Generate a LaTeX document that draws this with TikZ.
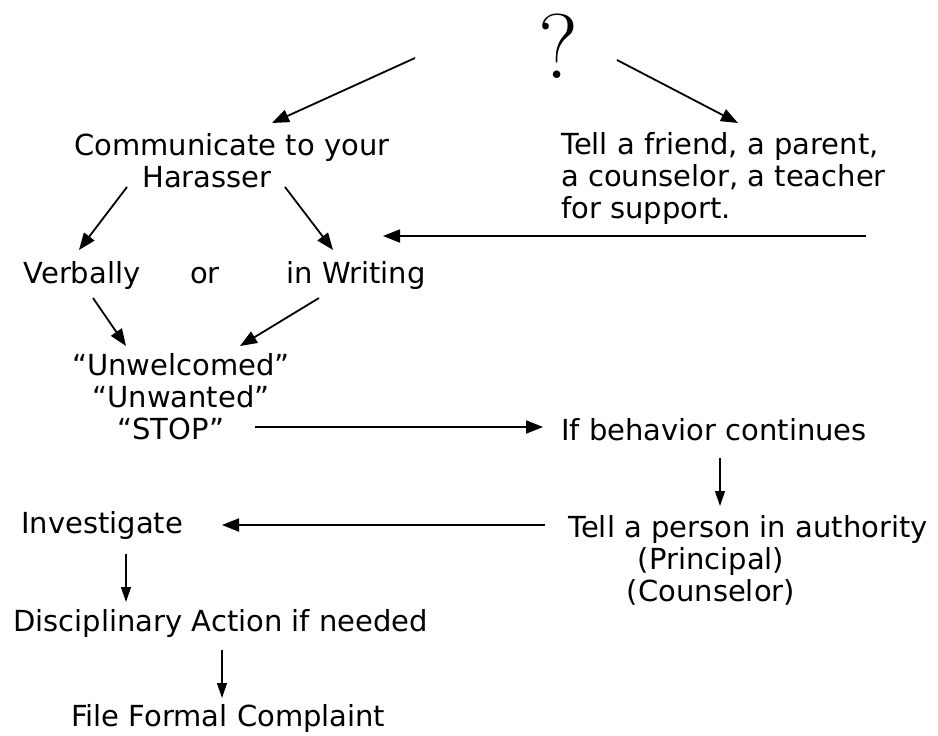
\documentclass[tikz,border=0pt]{standalone}
\usepackage{fontspec}
\newfontfamily\comicfont{DejaVu Sans}
\usetikzlibrary{arrows.meta, positioning}

\tikzset{
  txt/.style={font=\comicfont\fontsize{29}{32}\selectfont, inner sep=0pt, align=center},
  arr/.style={-{Triangle[length=17pt,width=13pt]}, line width=1.8pt},
  thinarr/.style={-{Triangle[length=15pt,width=10pt]}, line width=1.2pt}
}

\begin{document}
\begin{tikzpicture}[x=1pt, y=-1pt]
      \useasboundingbox (0,0) rectangle (938,736);
      % the question on top
      \node (q) at (558,46) {\fontsize{92}{92}\selectfont ?};
      \node[txt] (comm) at (232,161) {Communicate to your\\Harasser\hspace*{50pt}};
      \node[txt, align=left, anchor=west] (tell) at (561,178) {Tell a friend, a parent,\\a counselor, a teacher\\for support.};
      \node[txt, anchor=base] (verb) at (82,283) {Verbally};
      \node[txt, anchor=base] (or) at (205,283) {or};
      \node[txt, anchor=base] (writ) at (356,283) {in Writing};
      \node[txt] (unw) at (181,397) {“Unwelcomed”\\“Unwanted”\\“STOP”\hspace*{20pt}};
      \node[txt, anchor=west] (ifb) at (561,430) {If behavior continues};
      \node[txt] (auth) at (748,560) {Tell a person in authority\\(Principal)\hspace*{74pt}\mbox{}\\(Counselor)\hspace*{74pt}};
      \node[txt, anchor=west] (inv) at (21,525) {Investigate};
      \node[txt, anchor=west] (disc) at (13,623) {Disciplinary Action if needed};
      \node[txt, anchor=west] (file) at (71,718) {File Formal Complaint};
      % arrow ends
      \coordinate (q-l) at (415,58);   \coordinate (comm-in) at (272,123);
      \coordinate (q-r) at (617,60);   \coordinate (tell-in) at (738,123);
      \coordinate (comm-l) at (127,187); \coordinate (verb-in) at (79,250);
      \coordinate (comm-r) at (285,187); \coordinate (writ-in) at (333,250);
      \coordinate (tell-out) at (866,236); \coordinate (back-in) at (383,236);
      \coordinate (verb-out) at (93,298); \coordinate (unw-l) at (126,346);
      \coordinate (writ-out) at (319,298); \coordinate (unw-r) at (240,346);
      \coordinate (stop-out) at (255,427); \coordinate (ifb-in) at (543,427);
      \coordinate (ifb-out) at (720,458); \coordinate (auth-in) at (720,506);
      \coordinate (auth-out) at (545,525); \coordinate (inv-in) at (222,525);
      \coordinate (inv-out) at (126,554); \coordinate (disc-in) at (126,602);
      \coordinate (disc-out) at (222,650); \coordinate (file-in) at (222,698);
      % connectors
      \draw[arr] (q-l) -- (comm-in);
      \draw[arr] (q-r) -- (tell-in);
      \draw[arr] (comm-l) -- (verb-in);
      \draw[arr] (comm-r) -- (writ-in);
      \draw[arr] (tell-out) -- (back-in);
      \draw[arr] (verb-out) -- (unw-l);
      \draw[arr] (writ-out) -- (unw-r);
      \draw[arr] (stop-out) -- (ifb-in);
      \draw[thinarr] (ifb-out) -- (auth-in);
      \draw[arr] (auth-out) -- (inv-in);
      \draw[thinarr] (inv-out) -- (disc-in);
      \draw[thinarr] (disc-out) -- (file-in);
\end{tikzpicture}
\end{document}
